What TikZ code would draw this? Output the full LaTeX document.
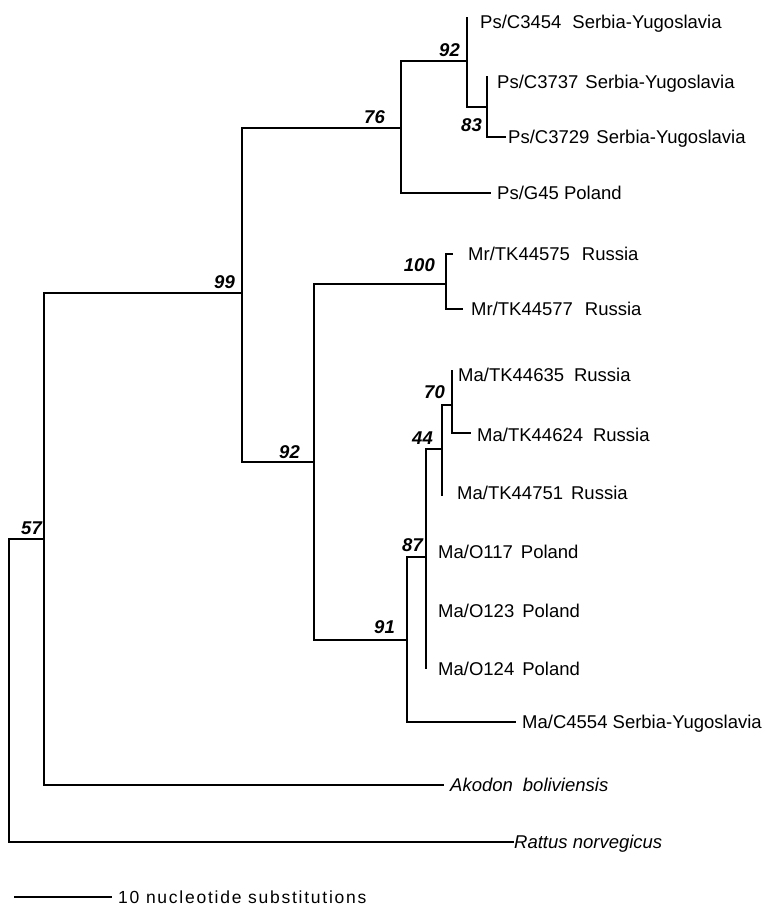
\documentclass[tikz,border=0pt]{standalone}
\usepackage{fontspec}
\setmainfont{Liberation Sans}
\begin{document}
\begin{tikzpicture}[x=1pt,y=-1pt,
  br/.style={line width=1.7pt, line cap=rect, line join=miter},
  lab/.style={anchor=base west, inner sep=0pt, font=\fontsize{18.5}{22}\selectfont},
  boot/.style={anchor=base east, inner sep=0pt, font=\fontsize{18.5}{22}\selectfont\bfseries\itshape},
]
\useasboundingbox (0,0) rectangle (765,908);
% internal nodes
\coordinate (root) at (9,690);
\coordinate (n57) at (44,539);
\coordinate (n99) at (242,293);
\coordinate (n76) at (401,128);
\coordinate (n92a) at (467,61);
\coordinate (n83) at (487,107);
\coordinate (n92b) at (314,462);
\coordinate (n100) at (446,284);
\coordinate (n91) at (407,640);
\coordinate (n87) at (426,557);
\coordinate (n44) at (442,449);
\coordinate (n70) at (452,405);
% leaf tips
\coordinate (t3454) at (467,18);
\coordinate (t3737) at (487,77);
\coordinate (t3729) at (505,137);
\coordinate (tg45) at (490,193);
\coordinate (t575) at (452,254);
\coordinate (t577) at (462,309);
\coordinate (t635) at (452,371);
\coordinate (t624) at (470,433);
\coordinate (t751) at (442,495);
\coordinate (to117) at (426,552);
\coordinate (to123) at (426,611);
\coordinate (to124) at (426,668);
\coordinate (t4554) at (515,722);
\coordinate (takodon) at (443,785);
\coordinate (trattus) at (513,842);
% branches
\draw[br] (root) |- (n57);
\draw[br] (root) |- (trattus);
\draw[br] (n57) |- (n99);
\draw[br] (n57) |- (takodon);
\draw[br] (n99) |- (n76);
\draw[br] (n99) |- (n92b);
\draw[br] (n76) |- (n92a);
\draw[br] (n76) |- (tg45);
\draw[br] (n92a) |- (t3454);
\draw[br] (n92a) |- (n83);
\draw[br] (n83) |- (t3737);
\draw[br] (n83) |- (t3729);
\draw[br] (n92b) |- (n100);
\draw[br] (n92b) |- (n91);
\draw[br] (n100) |- (t575);
\draw[br] (n100) |- (t577);
\draw[br] (n91) |- (n87);
\draw[br] (n91) |- (t4554);
\draw[br] (n87) |- (n44);
\draw[br] (n87) |- (to124);
\draw[br] (n44) |- (n70);
\draw[br] (n44) |- (t751);
\draw[br] (n70) |- (t635);
\draw[br] (n70) |- (t624);
% leaf labels
\node[lab] (l3454) at (480,28) {Ps/C3454\hspace{11pt}Serbia-Yugoslavia};
\node[lab] (l3737) at (497,88.5) {Ps/C3737\hspace{7pt}Serbia-Yugoslavia};
\node[lab] (l3729) at (508,143.5) {Ps/C3729\hspace{7pt}Serbia-Yugoslavia};
\node[lab] (lg45) at (497,199.5) {Ps/G45 Poland};
\node[lab] (l575) at (468,260.5) {Mr/TK44575\hspace{12pt}Russia};
\node[lab] (l577) at (471,315.5) {Mr/TK44577\hspace{12pt}Russia};
\node[lab] (l635) at (458,381.5) {Ma/TK44635\hspace{10pt}Russia};
\node[lab] (l624) at (477,441.5) {Ma/TK44624\hspace{10pt}Russia};
\node[lab] (l751) at (457,499.5) {Ma/TK44751\hspace{8pt}Russia};
\node[lab] (lo117) at (438,558.5) {Ma/O117\hspace{8pt}Poland};
\node[lab] (lo123) at (438,617.5) {Ma/O123\hspace{8pt}Poland};
\node[lab] (lo124) at (438,675.5) {Ma/O124\hspace{8pt}Poland};
\node[lab] (l4554) at (522,728.5) {Ma/C4554 Serbia-Yugoslavia};
\node[lab,font=\fontsize{18.5}{22}\selectfont\itshape] (lakodon) at (450,791.5) {Akodon\hspace{10pt}boliviensis};
\node[lab,font=\fontsize{18.5}{22}\selectfont\itshape] (lrattus) at (514,848.5) {Rattus norvegicus};
% bootstrap values
\node[boot] (b92a) at (460,56.5) {92};
\node[boot] (b83) at (482,131.5) {83};
\node[boot] (b76) at (385,123.5) {76};
\node[boot] (b99) at (235,288.5) {99};
\node[boot] (b92b) at (300,458.5) {92};
\node[boot] (b100) at (435,271.5) {100};
\node[boot] (b70) at (445,398.5) {70};
\node[boot] (b44) at (433,444.5) {44};
\node[boot] (b87) at (423,551.5) {87};
\node[boot] (b91) at (395,633.5) {91};
\node[boot] (b57) at (42,534.5) {57};
% scale bar
\coordinate (s0) at (15,897);
\coordinate (s1) at (111,897);
\draw[br] (s0) -- (s1);
\node[lab,font=\fontsize{17.5}{21}\selectfont\addfontfeature{LetterSpace=10}] (lscale) at (118,903) {10 nucleotide substitutions};
\end{tikzpicture}
\end{document}
